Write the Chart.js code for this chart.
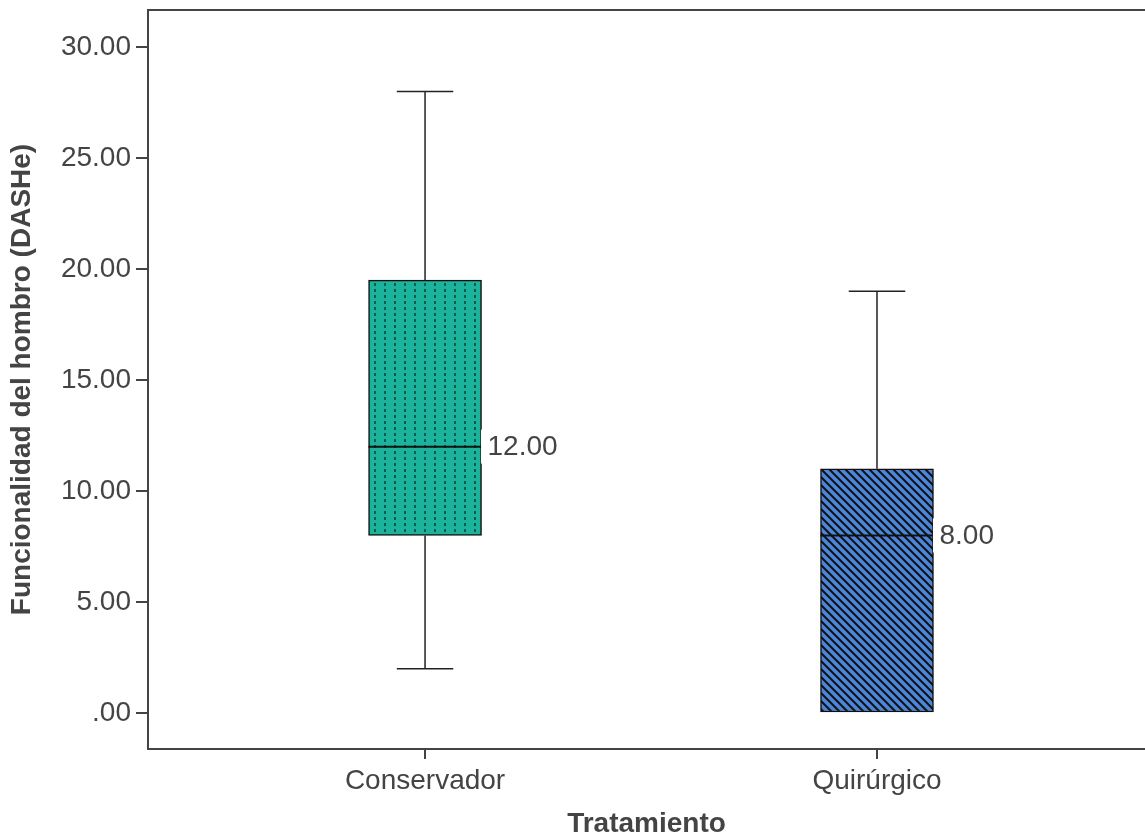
<!DOCTYPE html>
<html>
<head>
<meta charset="utf-8">
<script src="https://cdn.jsdelivr.net/npm/chart.js@4"></script>
<style>
  html, body { margin: 0; padding: 0; background: #fff; }
  #wrap { width: 1145px; height: 835px; }
</style>
</head>
<body>
<div id="wrap"><canvas id="chart" width="1145" height="835"></canvas></div>
<script>
// ===== Data =====
const categories = ["Conservador", "Quirúrgico"];
const whiskerLow = [2, 0];
const q1 = [8, 0];
const medians = [12, 8];
const q3 = [19.5, 11];
const whiskerHigh = [28, 19];
const yTicks = [0, 5, 10, 15, 20, 25, 30];

const AXIS = "#444444";
const FONT = "'Liberation Sans', Arial, sans-serif";

// ===== Fill patterns =====
function dottedPattern() {
  const c = document.createElement("canvas");
  c.width = 10; c.height = 6;
  const g = c.getContext("2d");
  g.fillStyle = "#1bb39b";
  g.fillRect(0, 0, 10, 6);
  g.fillStyle = "#0a5a4e";
  g.fillRect(4, 1, 2, 3);
  return g.createPattern(c, "repeat");
}

function hatchPattern() {
  const s = 8;
  const c = document.createElement("canvas");
  c.width = s; c.height = s;
  const g = c.getContext("2d");
  g.fillStyle = "#4b86da";
  g.fillRect(0, 0, s, s);
  g.strokeStyle = "#111";
  g.lineWidth = 2;
  g.beginPath();
  g.moveTo(-2, -2); g.lineTo(s + 2, s + 2);
  g.moveTo(-2, s - 2); g.lineTo(2, s + 2);
  g.moveTo(s - 2, -2); g.lineTo(s + 2, 2);
  g.stroke();
  return g.createPattern(c, "repeat");
}

const fills = [dottedPattern(), hatchPattern()];

// ===== Whiskers, medians, labels, frame =====
const boxExtras = {
  id: "boxExtras",
  afterDatasetsDraw(chart) {
    const { ctx, chartArea, scales: { x, y } } = chart;
    const meta = chart.getDatasetMeta(0);
    ctx.save();
    categories.forEach((cat, i) => {
      const bar = meta.data[i];
      const half = bar.width / 2;
      const cx = x.getPixelForValue(i + 1);
      const yLo = y.getPixelForValue(whiskerLow[i]);
      const yHi = y.getPixelForValue(whiskerHigh[i]);
      const yQ1 = y.getPixelForValue(q1[i]);
      const yQ3 = y.getPixelForValue(q3[i]);
      const yMed = y.getPixelForValue(medians[i]);
      ctx.strokeStyle = "#222";
      ctx.lineWidth = 1.5;
      ctx.beginPath();
      // upper whisker + cap
      if (whiskerHigh[i] > q3[i]) {
        ctx.moveTo(cx, yHi); ctx.lineTo(cx, yQ3);
        ctx.moveTo(cx - half / 2, yHi); ctx.lineTo(cx + half / 2, yHi);
      }
      // lower whisker + cap
      if (whiskerLow[i] < q1[i]) {
        ctx.moveTo(cx, yQ1); ctx.lineTo(cx, yLo);
        ctx.moveTo(cx - half / 2, yLo); ctx.lineTo(cx + half / 2, yLo);
      }
      ctx.stroke();
      // median
      ctx.beginPath();
      ctx.lineWidth = 2;
      ctx.strokeStyle = "#111";
      ctx.moveTo(cx - half, yMed); ctx.lineTo(cx + half, yMed);
      ctx.stroke();
      // median label
      ctx.font = "28px " + FONT;
      const txt = medians[i].toFixed(2);
      const w = ctx.measureText(txt).width;
      ctx.fillStyle = "#fff";
      ctx.fillRect(cx + half - 0.5, yMed - 17, w + 10, 34);
      ctx.fillStyle = AXIS;
      ctx.textAlign = "left";
      ctx.textBaseline = "middle";
      ctx.fillText(txt, cx + half + 6, yMed + 1);
    });
    // top frame line
    ctx.beginPath();
    ctx.strokeStyle = AXIS;
    ctx.lineWidth = 2;
    ctx.moveTo(chartArea.left, chartArea.top);
    ctx.lineTo(chartArea.right, chartArea.top);
    ctx.stroke();
    ctx.restore();
  }
};

new Chart(document.getElementById("chart"), {
  type: "bar",
  data: {
    datasets: [{
      data: categories.map((c, i) => ({ x: i + 1, y: [q1[i], q3[i]] })),
      backgroundColor: fills,
      borderColor: "#111",
      borderWidth: 1.5,
      borderSkipped: false,
      barThickness: 113
    }]
  },
  options: {
    responsive: false,
    animation: false,
    layout: { padding: { top: 10, right: 0, left: 0, bottom: 0 } },
    plugins: { legend: { display: false }, tooltip: { enabled: false } },
    scales: {
      x: {
        type: "linear",
        offset: false,
        min: 0.387,
        max: 2.593,
        afterBuildTicks: (s) => { s.ticks = categories.map((c, i) => ({ value: i + 1 })); },
        afterFit: (s) => { s.height = 86; s.paddingLeft = 0; s.paddingRight = 0; },
        ticks: {
          callback: (v) => categories[v - 1],
          color: AXIS,
          font: { family: FONT, size: 28 },
          padding: 5,
          maxRotation: 0
        },
        grid: { offset: false, drawOnChartArea: false, drawTicks: true, tickLength: 10, color: AXIS, lineWidth: 2 },
        border: { color: AXIS, width: 2 },
        title: {
          display: true,
          text: "Tratamiento",
          color: AXIS,
          font: { family: FONT, size: 28, weight: "bold", lineHeight: 0.8 },
          padding: { top: 0, bottom: 0 }
        }
      },
      y: {
        min: -1.62,
        max: 31.67,
        afterBuildTicks: (s) => { s.ticks = yTicks.map(v => ({ value: v })); },
        afterFit: (s) => { s.width = 148; s.paddingTop = 0; s.paddingBottom = 0; },
        ticks: {
          callback: (v) => v === 0 ? ".00" : v.toFixed(2),
          color: AXIS,
          font: { family: FONT, size: 28 },
          padding: 5
        },
        grid: { drawOnChartArea: false, drawTicks: true, tickLength: 12, color: AXIS, lineWidth: 2 },
        border: { color: AXIS, width: 2 },
        title: {
          display: true,
          text: "Funcionalidad del hombro (DASHe)",
          color: AXIS,
          font: { family: FONT, size: 28, weight: "bold" },
          padding: { top: 5, bottom: 0 }
        }
      }
    }
  },
  plugins: [boxExtras]
});
</script>
</body>
</html>
